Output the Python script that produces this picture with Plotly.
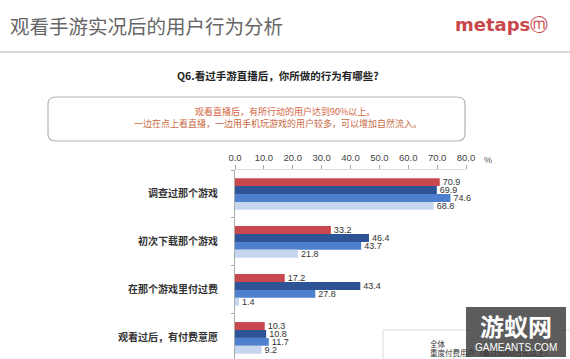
import plotly.graph_objects as go

categories = ["调查过那个游戏", "初次下载那个游戏", "在那个游戏里付过费", "观看过后，有付费意愿"]
series_names = ["全体", "重度付费用户（每月5000日元以上）", "中度付费用户", "轻度付费用户"]
values_all = [70.9, 33.2, 17.2, 10.3]
values_heavy = [69.9, 46.4, 43.4, 10.8]
values_mid = [74.6, 43.7, 27.8, 11.7]
values_light = [68.8, 21.8, 1.4, 9.2]
colors = ["#c9474f", "#2d5496", "#4d80cf", "#c6d6ef"]
x_ticks = [0, 10, 20, 30, 40, 50, 60, 70, 80]

W, H = 570, 359
L, R, T, B = 235, 104, 170, 0
PW, PH = W - L - R, H - T - B

def px(x):
    return (x - L) / PW

def py(y):
    return (H - B - y) / PH

CJK = "Noto Sans CJK SC"
fig = go.Figure()
for name, vals, col in zip(series_names, [values_all, values_heavy, values_mid, values_light], colors):
    fig.add_trace(go.Bar(
        y=categories, x=vals, orientation="h", name=name,
        marker=dict(color=col, line=dict(width=0)),
        text=vals, texttemplate="%{x:.1f}", textposition="outside",
        textfont=dict(size=9, color="#333", family="Liberation Sans"),
        constraintext="none", cliponaxis=False, showlegend=False,
    ))

fig.update_layout(
    width=W, height=H, margin=dict(l=L, r=R, t=T, b=B, autoexpand=False),
    paper_bgcolor="white", plot_bgcolor="white",
    barmode="group", bargap=0.34, bargroupgap=0,
    font=dict(family=CJK, color="#333"),
    xaxis=dict(side="top", range=[0, 80], tickvals=x_ticks, tickformat=".1f",
               ticks="outside", ticklen=4, tickcolor="#aaa", showgrid=False,
               showline=True, linecolor="#ddd", linewidth=1, zeroline=False,
               tickfont=dict(size=9.5, color="#444", family="Liberation Sans")),
    yaxis=dict(type="category", range=[3.44, -0.5], showgrid=False,
               showline=True, linecolor="#aaa", linewidth=1,
               ticks="outside", ticklen=3, tickcolor="#aaa", ticklabelstandoff=14,
               showticklabels=True, tickson="boundaries",
               tickfont=dict(size=10, color="#333", family=CJK, weight="bold")),
)

shapes = []
annotations = []
# header line
shapes.append(dict(type="line", xref="paper", yref="paper", x0=px(0), x1=px(570), y0=py(52), y1=py(52),
                   line=dict(color="#c8c8c8", width=1.5)))
annotations.append(dict(text="观看手游实况后的用户行为分析", x=px(8), y=py(25), xref="paper", yref="paper",
                        xanchor="left", yanchor="middle", showarrow=False,
                        font=dict(size=19.5, color="#666", family=CJK)))
annotations.append(dict(text="<b>metaps</b>ⓜ", x=px(550), y=py(24), xref="paper", yref="paper",
                        xanchor="right", yanchor="middle", showarrow=False,
                        font=dict(size=18, color="#c8474a", family="DejaVu Sans")))
annotations.append(dict(text="<b>Q6.看过手游直播后，你所做的行为有哪些?</b>", x=px(278), y=py(75), xref="paper", yref="paper",
                        xanchor="center", yanchor="middle", showarrow=False,
                        font=dict(size=10.5, color="#222", family=CJK)))
# comment box
shapes.append(dict(type="path", xref="paper", yref="paper",
                   path="M {a},{b} L {c},{b} Q {d},{b} {d},{e} L {d},{f} Q {d},{g} {c},{g} L {a},{g} Q {h},{g} {h},{f} L {h},{e} Q {h},{b} {a},{b} Z".format(
                       a=px(56), c=px(457), d=px(465), h=px(48), b=py(97), e=py(104), f=py(134), g=py(141)),
                   line=dict(color="#b9b3ae", width=1.2), fillcolor="rgba(0,0,0,0)"))
annotations.append(dict(text="观看直播后，有所行动的用户达到90%以上。", x=px(285), y=py(111), xref="paper", yref="paper",
                        xanchor="center", yanchor="middle", showarrow=False,
                        font=dict(size=9, color="#d4643f", family=CJK)))
annotations.append(dict(text="一边在点上看直播，一边用手机玩游戏的用户较多，可以增加自然流入。", x=px(278), y=py(124), xref="paper", yref="paper",
                        xanchor="center", yanchor="middle", showarrow=False,
                        font=dict(size=9, color="#c86a44", family=CJK)))
annotations.append(dict(text="%", x=px(488), y=py(160), xref="paper", yref="paper",
                        xanchor="center", yanchor="middle", showarrow=False,
                        font=dict(size=9, color="#555", family="Liberation Sans")))
# legend box (partially visible)
shapes.append(dict(type="rect", xref="paper", yref="paper", x0=px(383), x1=px(575), y0=py(330), y1=py(365),
                   line=dict(color="#dddddd", width=1), fillcolor="white"))
for i, name in enumerate(series_names[:2]):
    annotations.append(dict(text=name, x=px(428), y=py(343 + 9 * i), xref="paper", yref="paper",
                            xanchor="left", yanchor="middle", showarrow=False,
                            font=dict(size=7.5, color="#333", family=CJK)))
# watermark
shapes.append(dict(type="rect", xref="paper", yref="paper", x0=px(466), x1=px(566), y0=py(357), y1=py(307),
                   line=dict(width=0), fillcolor="rgba(70,70,70,0.88)"))
annotations.append(dict(text="<b>游蚁网</b>", x=px(516), y=py(325), xref="paper", yref="paper",
                        xanchor="center", yanchor="middle", showarrow=False,
                        font=dict(size=24, color="white", family=CJK)))
annotations.append(dict(text="GAMEANTS.COM", x=px(516), y=py(347), xref="paper", yref="paper",
                        xanchor="center", yanchor="middle", showarrow=False,
                        font=dict(size=10, color="white", family="Liberation Sans")))

fig.update_layout(shapes=shapes, annotations=annotations)
fig.write_html("out.html")
